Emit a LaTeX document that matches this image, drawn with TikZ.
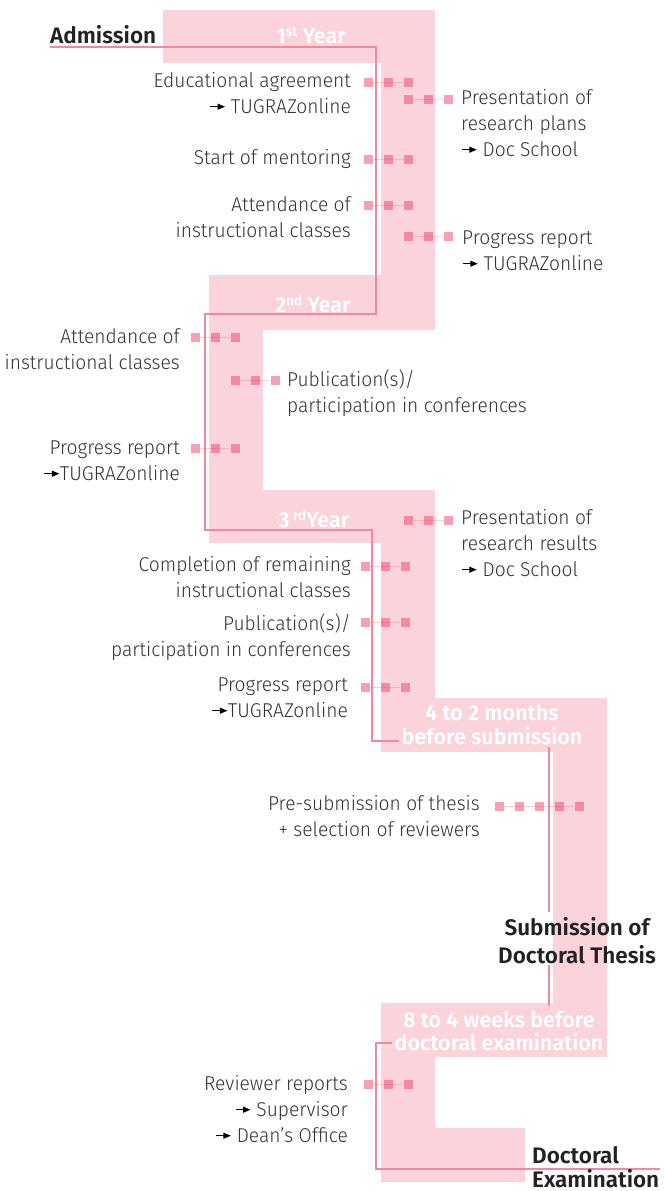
\documentclass[tikz,border=0pt]{standalone}
\usepackage{fontspec}
\setmainfont{Fira Sans Light}
\newfontfamily\lightfont{Fira Sans Light}[FakeStretch=0.96]
\newfontfamily\semifont{Fira Sans SemiBold}
\usetikzlibrary{arrows.meta}
\definecolor{band}{HTML}{FBD3DB}
\definecolor{pline}{HTML}{F2889F}
\definecolor{dotc}{HTML}{ED4369}
\definecolor{txt}{HTML}{333333}
\definecolor{keytxt}{HTML}{222222}
\newcommand{\tarr}{\tikz[baseline=0pt,x=1pt,y=1pt]\draw[black,line width=1.1pt,-{Triangle[length=7.5pt,width=6pt]}] (0,6.3) -- (15,6.3);}
\newcommand{\sst}[1]{\raisebox{6.5pt}{\fontsize{13.5}{13.5}\selectfont #1}}
\newcommand{\dotrow}[4]{%
  \foreach \xx [count=\ii] in {#4} {\node[sq] (#1-\ii) at (\xx,#2) {};}
  \draw[tie] (#1-1) \foreach \jj in {2,...,#3} { -- (#1-\jj) };
}
\tikzset{
  lbl/.style={font=\lightfont\fontsize{20}{26}\selectfont, text=txt, inner sep=0pt},
  lblL/.style={lbl, align=right, anchor=base east},
  lblR/.style={lbl, align=left, anchor=base west},
  hdr/.style={font=\semifont\fontsize{21.5}{24}\selectfont, text=white, inner sep=0pt, align=center, anchor=base},
  keyl/.style={font=\semifont\fontsize{22.5}{28}\selectfont, text=keytxt, inner sep=0pt},
  sq/.style={rectangle, fill=dotc, fill opacity=0.5, minimum size=9pt, inner sep=0pt, draw=none},
  tie/.style={draw=dotc, draw opacity=0.25, line width=1pt},
  tl/.style={draw=pline, line width=2.6pt},
}
\begin{document}
\begin{tikzpicture}[x=1pt,y=-1pt]
\useasboundingbox[fill=white] (0,0) rectangle (664,1191);
% pink band
\fill[band] (163,10) rectangle (435,63);
\fill[band] (381,63) rectangle (435,275);
\fill[band] (209,275) rectangle (435,330);
\fill[band] (209,330) rectangle (263,490);
\fill[band] (209,490) rectangle (435,543);
\fill[band] (381,543) rectangle (435,698);
\fill[band] (381,698) rectangle (607,752);
\fill[band] (553,752) rectangle (607,1003);
\fill[band] (381,1003) rectangle (607,1057);
\fill[band] (381,1057) rectangle (435,1128);
\fill[band] (381,1128) rectangle (525,1182);
% timeline
\draw[tl] (50,47) -- (376,47) -- (376,314) -- (205,314) -- (205,530) -- (372,530) -- (372,741) -- (399,741);
\draw[tl] (549,747) -- (549,912);
\draw[tl] (549,965) -- (549,1006);
\draw[tl] (392,1043) -- (376,1043) -- (376,1169) -- (660,1169);
% headers (anchor = baseline of last line)
\node[keyl, anchor=base west] (adm) at (50,43) {Admission};
\node[hdr] (h1) at (311,43) {1\sst{st} Year};
\node[hdr] (h2) at (313,312) {2\sst{nd} Year};
\node[hdr] (h3) at (314,527) {3\,\sst{rd}Year};
\node[hdr] (h4) at (492,744) {4 to 2 months\\before submission};
\node[keyl, align=center, anchor=base] (sub) at (577,963) {Submission of\\Doctoral Thesis};
\node[hdr, font=\semifont\fontsize{21.5}{23}\selectfont] (h5) at (499,1050) {8 to 4 weeks before\\doctoral examination};
\node[keyl, align=left, anchor=base west, font=\semifont\fontsize{22.5}{23.5}\selectfont] (dex) at (532,1187) {Doctoral\\Examination};
% year 1
\node[lblL] (t-ea) at (351,113) {Educational agreement\\\tarr\ TUGRAZonline};
\dotrow{d-ea}{82}{3}{368,388,408}
\node[lblR] (t-prp) at (461,156) {Presentation of\\research plans\\\tarr\ Doc School};
\dotrow{d-prp}{99}{3}{408,428,448}
\node[lblL] (t-sm) at (351,164) {Start of mentoring};
\dotrow{d-sm}{159}{3}{368,388,408}
\node[lblL] (t-aic) at (351,237) {Attendance of\\instructional classes};
\dotrow{d-aic}{205}{3}{368,388,408}
\node[lblR] (t-pr1) at (462,270) {Progress report\\\tarr\ TUGRAZonline};
\dotrow{d-pr1}{236}{3}{408,428,448}
% year 2
\node[lblL] (t-aic2) at (180,369) {Attendance of\\instructional classes};
\dotrow{d-aic2}{337}{3}{195,215,235}
\node[lblR] (t-pub2) at (287,412) {Publication(s)/\\participation in conferences};
\dotrow{d-pub2}{380}{3}{235,255,275}
\node[lblL] (t-pr2) at (180,480) {Progress report\\\tarr TUGRAZonline};
\dotrow{d-pr2}{448}{3}{195,215,235}
% year 3
\node[lblR] (t-prr) at (461,576) {Presentation of\\research results\\\tarr\ Doc School};
\dotrow{d-prr}{520}{3}{408,428,448}
\node[lblL] (t-crc) at (351,597) {Completion of remaining\\instructional classes};
\dotrow{d-crc}{566}{3}{365,385,405}
\node[lblL] (t-pub3) at (351,656) {Publication(s)/\\participation in conferences};
\dotrow{d-pub3}{622}{3}{365,385,405}
\node[lblL] (t-pr3) at (348,717) {Progress report\\\tarr TUGRAZonline};
\dotrow{d-pr3}{687}{3}{365,385,405}
% pre-submission
\node[lblL] (t-ps) at (480,836) {Pre-submission of thesis\\+ selection of reviewers};
\dotrow{d-ps}{806}{5}{499,519,539,559,579}
% reviewers
\node[lblL] (t-rr) at (348,1142) {Reviewer reports\\\tarr\ Supervisor\\\tarr\ Dean’s Office};
\dotrow{d-rr}{1084}{3}{368,388,408}
\end{tikzpicture}
\end{document}
